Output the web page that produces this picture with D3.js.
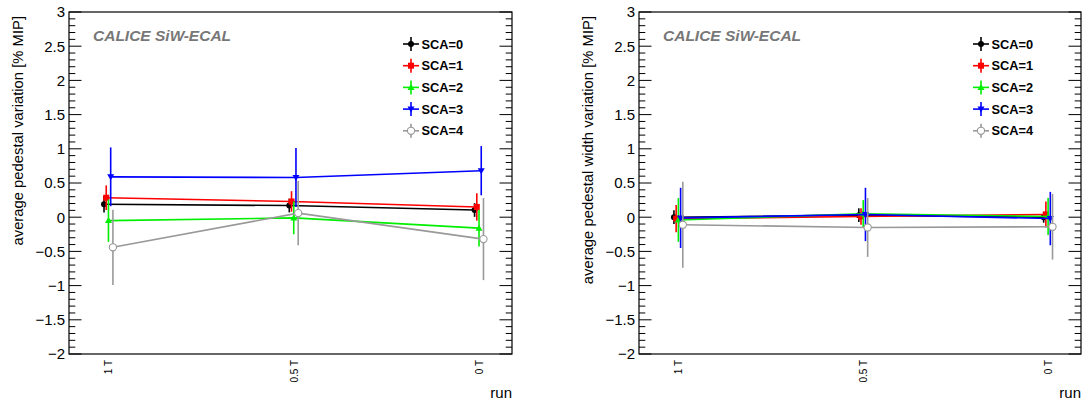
<!DOCTYPE html>
<html><head><meta charset="utf-8">
<script src="https://cdn.jsdelivr.net/npm/d3@7"></script>
<style>
html,body{margin:0;padding:0;background:#fff;}
svg{display:block;font-family:"Liberation Sans",Arial,Helvetica,sans-serif;}
</style></head>
<body>
<svg id="c" width="1084" height="403"></svg>
<script>
// ---------- data ----------
const runs = ["1 T", "0.5 T", "0 T"];
const scaNames = ["SCA=0", "SCA=1", "SCA=2", "SCA=3", "SCA=4"];
const scaColors = ["#000000", "#ff0000", "#00ee00", "#0000ff", "#999999"];
const scaMarkers = ["circle", "square", "triUp", "triDown", "openCircle"];

// left panel: average pedestal variation [% MIP]
const pedVal = [
  [0.19, 0.17, 0.105],
  [0.285, 0.23, 0.15],
  [-0.05, -0.01, -0.16],
  [0.59, 0.58, 0.68],
  [-0.44, 0.06, -0.32]
];
const pedErr = [
  [0.12, 0.10, 0.10],
  [0.18, 0.15, 0.20],
  [0.31, 0.24, 0.27],
  [0.43, 0.43, 0.36],
  [0.55, 0.47, 0.60]
];
// right panel: average pedestal width variation [% MIP]
const widVal = [
  [0.0, 0.03, 0.0],
  [-0.02, 0.01, 0.04],
  [-0.04, 0.05, 0.01],
  [-0.01, 0.04, -0.02],
  [-0.11, -0.15, -0.14]
];
const widErr = [
  [0.10, 0.10, 0.08],
  [0.20, 0.12, 0.19],
  [0.32, 0.20, 0.27],
  [0.44, 0.39, 0.39],
  [0.63, 0.43, 0.48]
];
const yMajorTicks = [-2, -1.5, -1, -0.5, 0, 0.5, 1, 1.5, 2, 2.5, 3];
const scaShift = 0.012; // x offset between SCA graphs (in run units)

// ---------- layout ----------
const svg = d3.select("#c");
const yTop = 12, yBottom = 354;
const panels = [
  {x0: 69, x1: 512, vals: pedVal, errs: pedErr, title: "average pedestal variation [% MIP]"},
  {x0: 639, x1: 1081, vals: widVal, errs: widErr, title: "average pedestal width variation [% MIP]"}
];

function drawMarker(g, type, color, x, y) {
  if (type === "circle") {
    g.append("circle").attr("cx", x).attr("cy", y).attr("r", 3).attr("fill", color);
  } else if (type === "square") {
    g.append("rect").attr("x", x - 3).attr("y", y - 3).attr("width", 6).attr("height", 6).attr("fill", color);
  } else if (type === "triUp") {
    g.append("path").attr("d", `M${x},${y - 3.5}L${x + 3.5},${y + 2.5}L${x - 3.5},${y + 2.5}Z`).attr("fill", color);
  } else if (type === "triDown") {
    g.append("path").attr("d", `M${x},${y + 3.5}L${x + 3.5},${y - 2.5}L${x - 3.5},${y - 2.5}Z`).attr("fill", color);
  } else {
    g.append("circle").attr("cx", x).attr("cy", y).attr("r", 3.6).attr("fill", "#fff").attr("stroke", color).attr("stroke-width", 1.1);
  }
}

panels.forEach(p => {
  const g = svg.append("g");
  const x = d3.scaleLinear().domain([-0.213, 2.178]).range([p.x0, p.x1]);
  const y = d3.scaleLinear().domain([-2, 3]).range([yBottom, yTop]);

  // ticks (left + right, inward)
  const minor = d3.range(-20, 31).map(v => v / 10);
  minor.forEach(v => {
    const isMajor = Math.abs(v * 2 - Math.round(v * 2)) < 1e-6;
    const len = isMajor ? 12.5 : 6.3;
    g.append("line").attr("x1", p.x0).attr("x2", p.x0 + len)
      .attr("y1", y(v)).attr("y2", y(v)).attr("stroke", "#000").attr("stroke-width", 1);
    g.append("line").attr("x1", p.x1).attr("x2", p.x1 - len)
      .attr("y1", y(v)).attr("y2", y(v)).attr("stroke", "#000").attr("stroke-width", 1);
  });
  // tick labels
  const fmt = d3.format("");
  yMajorTicks.forEach(v => {
    g.append("text").attr("x", p.x0 - 4).attr("y", y(v)).attr("dy", "0.36em")
      .attr("text-anchor", "end").attr("font-size", 15).attr("fill", "#000").text(fmt(v));
  });
  // x labels
  runs.forEach((r, i) => {
    g.append("text").attr("transform", `translate(${x(i) + 4},${yBottom + 6}) rotate(-90)`)
      .attr("text-anchor", "end").attr("font-size", 10).attr("fill", "#000").text(r);
  });
  // frame
  g.append("rect").attr("x", p.x0).attr("y", yTop).attr("width", p.x1 - p.x0).attr("height", yBottom - yTop)
    .attr("fill", "none").attr("stroke", "#000").attr("stroke-width", 1.2);

  // axis titles
  g.append("text").attr("transform", `translate(${p.x0 - 46},${yTop + 4}) rotate(-90)`)
    .attr("text-anchor", "end").attr("font-size", 14.8).attr("fill", "#000").text(p.title);
  g.append("text").attr("x", p.x1).attr("y", 398).attr("text-anchor", "end")
    .attr("font-size", 15).attr("fill", "#000").text("run");

  // CALICE label
  g.append("text").attr("x", p.x0 + 24).attr("y", 41).attr("font-size", 15.5)
    .attr("font-weight", "bold").attr("font-style", "italic").attr("fill", "#777").text("CALICE SiW-ECAL");

  // graphs
  scaNames.forEach((name, s) => {
    const col = scaColors[s];
    const pts = runs.map((r, i) => ({
      x: x(i + (s - 2) * scaShift),
      y: y(p.vals[s][i]),
      lo: y(p.vals[s][i] - p.errs[s][i]),
      hi: y(p.vals[s][i] + p.errs[s][i])
    }));
    const gg = g.append("g");
    gg.append("path").attr("d", d3.line().x(d => d.x).y(d => d.y)(pts))
      .attr("fill", "none").attr("stroke", col).attr("stroke-width", 1.6);
    pts.forEach(d => {
      gg.append("line").attr("x1", d.x).attr("x2", d.x).attr("y1", d.lo).attr("y2", d.hi)
        .attr("stroke", col).attr("stroke-width", 1.6);
    });
    pts.forEach(d => drawMarker(gg, scaMarkers[s], col, d.x, d.y));
  });

  // legend
  const lx = p.x0 + 342;
  scaNames.forEach((name, s) => {
    const ly = 44 + s * 21.7;
    const col = scaColors[s];
    const lg = g.append("g");
    lg.append("line").attr("x1", lx - 8).attr("x2", lx + 8).attr("y1", ly).attr("y2", ly)
      .attr("stroke", col).attr("stroke-width", 1.6);
    lg.append("line").attr("x1", lx).attr("x2", lx).attr("y1", ly - 7).attr("y2", ly + 7)
      .attr("stroke", col).attr("stroke-width", 1.6);
    drawMarker(lg, scaMarkers[s], col, lx, ly);
    lg.append("text").attr("x", lx + 10.5).attr("y", ly).attr("dy", "0.36em")
      .attr("font-size", 12.8).attr("font-weight", "bold").attr("fill", "#000").text(name);
  });
});
</script>
</body></html>
